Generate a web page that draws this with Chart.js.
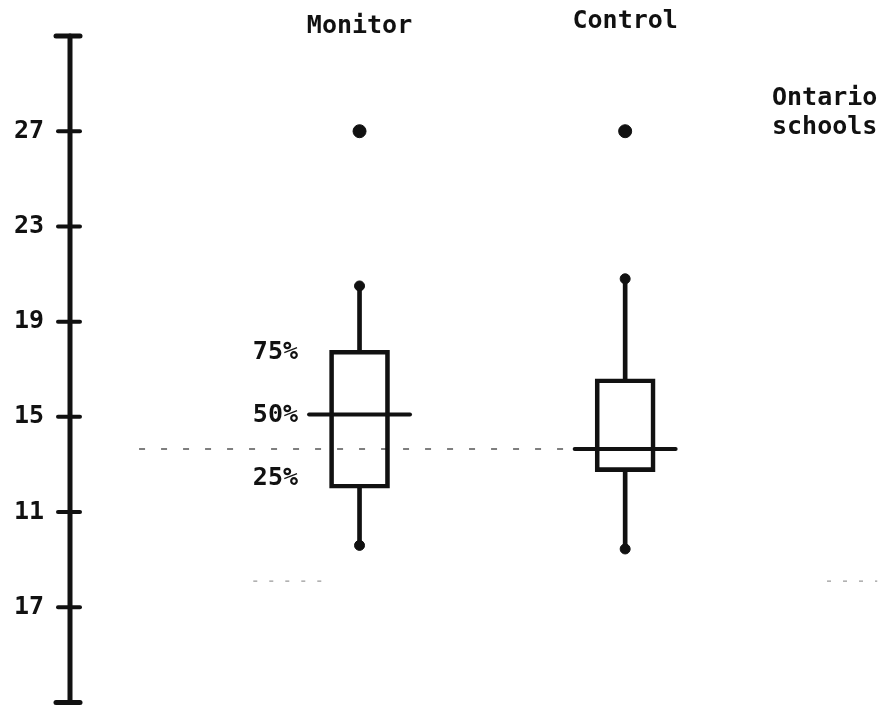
<!DOCTYPE html>
<html>
<head>
<meta charset="utf-8">
<script src="https://cdn.jsdelivr.net/npm/chart.js@4.4.1/dist/chart.umd.min.js"></script>
<style>
  html, body { margin: 0; padding: 0; background: #ffffff; }
  #wrap { width: 885px; height: 710px; }
</style>
</head>
<body>
<div id="wrap"><canvas id="c" width="885" height="710"></canvas></div>
<script>
// ---- data ----
const categories   = ["Monitor", "Control"];
const whiskerLow   = [9.6, 9.45];
const quartile1    = [12.0, 12.7];
const medians      = [15.1, 13.65];
const quartile3    = [17.8, 16.6];
const whiskerHigh  = [20.5, 20.8];
const outliers     = [27, 27];
const ontarioLine  = 13.65;
const lowerDashes  = 8.1;
const tickValues   = [3, 7, 11, 15, 19, 23, 27, 31];
const tickLabels   = ["", "17", "11", "15", "19", "23", "27", ""];
const percentLabels = ["75%", "50%", "25%"];
const sideLabel    = ["Ontario", "schools"];

// ---- styling / layout constants ----
const FAMILY = '"DejaVu Sans Mono", "Liberation Mono", monospace';
const FONT = 'bold 25px ' + FAMILY;
const INK = '#111111';
const medianHalf = 0.19;

const positions = categories.map((c, i) => i + 1);

const boxData = positions.map((x, i) => ({ x: x, y: [quartile1[i], quartile3[i]] }));
const whiskerData = [];
positions.forEach((x, i) => {
  whiskerData.push({ x: x, y: [quartile3[i], whiskerHigh[i]] });
  whiskerData.push({ x: x, y: [whiskerLow[i], quartile1[i]] });
});
const endDots = [];
positions.forEach((x, i) => {
  endDots.push({ x: x, y: whiskerHigh[i] });
  endDots.push({ x: x, y: whiskerLow[i] });
});
const outlierData = positions.map((x, i) => ({ x: x, y: outliers[i] }));
const medianSets = positions.map((x, i) => ({
  type: 'line',
  data: [{ x: x - medianHalf, y: medians[i] }, { x: x + medianHalf, y: medians[i] }],
  borderColor: INK, borderWidth: 4, pointRadius: 0, borderCapStyle: 'round', order: 0
}));

function dashSet(x0, x1, v, color, width, dash) {
  return {
    type: 'line', data: [{ x: x0, y: v }, { x: x1, y: v }],
    borderColor: color, borderWidth: width, borderDash: dash, pointRadius: 0, order: 3
  };
}

const axisPlugin = {
  id: 'axisPlugin',
  afterDraw(chart) {
    const ctx = chart.ctx;
    const ys = chart.scales.y;
    const xs = chart.scales.x;
    const ax = chart.chartArea.left;
    ctx.save();
    ctx.strokeStyle = INK;
    ctx.lineCap = 'round';
    ctx.lineWidth = 5;
    ctx.beginPath();
    ctx.moveTo(ax, ys.getPixelForValue(tickValues[tickValues.length - 1]));
    ctx.lineTo(ax, ys.getPixelForValue(tickValues[0]));
    ctx.stroke();
    tickValues.forEach((v, i) => {
      const py = ys.getPixelForValue(v);
      const end = (i === 0 || i === tickValues.length - 1);
      ctx.lineWidth = end ? 5 : 4;
      ctx.beginPath();
      ctx.moveTo(ax - (end ? 14 : 12), py);
      ctx.lineTo(ax + 10, py);
      ctx.stroke();
    });
    ctx.fillStyle = INK;
    ctx.font = FONT;
    ctx.textBaseline = 'middle';
    ctx.textAlign = 'center';
    ctx.fillText(categories[0], xs.getPixelForValue(positions[0]), 26);
    ctx.fillText(categories[1], xs.getPixelForValue(positions[1]), 21);
    ctx.textAlign = 'left';
    ctx.fillText(sideLabel[0], 772, 98);
    ctx.fillText(sideLabel[1], 772, 127);
    ctx.textAlign = 'right';
    const px = 298;
    ctx.fillText(percentLabels[0], px, ys.getPixelForValue(quartile3[0]) + 2);
    ctx.fillText(percentLabels[1], px, ys.getPixelForValue(medians[0]) + 1);
    ctx.fillText(percentLabels[2], px, ys.getPixelForValue(quartile1[0]) - 10);
    ctx.restore();
  }
};

new Chart(document.getElementById('c'), {
  type: 'bar',
  data: {
    datasets: [
      ...medianSets,
      {
        type: 'bar', data: boxData, barThickness: 60, grouped: false,
        backgroundColor: 'rgba(0,0,0,0)', borderColor: INK, borderWidth: 4,
        borderSkipped: false, order: 1
      },
      {
        type: 'bar', data: whiskerData, barThickness: 4, grouped: false,
        backgroundColor: INK, borderWidth: 0, order: 2
      },
      {
        type: 'scatter', data: endDots, pointRadius: 5,
        backgroundColor: INK, borderColor: INK, borderWidth: 1, order: 0
      },
      {
        type: 'scatter', data: outlierData, pointRadius: 6.5,
        backgroundColor: INK, borderColor: INK, borderWidth: 1, order: 0
      },
      dashSet(0.17, 1.81, ontarioLine, '#555555', 1.5, [6, 16]),
      dashSet(0.60, 0.86, lowerDashes, '#999999', 1.2, [4, 12]),
      dashSet(2.76, 2.95, lowerDashes, '#999999', 1.2, [4, 12])
    ]
  },
  options: {
    responsive: false,
    animation: false,
    layout: { padding: { top: 36, bottom: 4, left: 0, right: 0 } },
    plugins: { legend: { display: false }, tooltip: { enabled: false }, title: { display: false } },
    scales: {
      x: {
        type: 'linear', min: -0.09, max: 2.95, display: false, offset: false,
        grid: { display: false }
      },
      y: {
        type: 'linear', min: 3, max: 31, beginAtZero: false,
        afterBuildTicks: (s) => { s.ticks = tickValues.map(v => ({ value: v })); },
        afterFit: (s) => { s.width = 70; s.paddingTop = 0; s.paddingBottom = 0; },
        grid: { display: false, drawTicks: false },
        border: { display: false },
        ticks: {
          autoSkip: false, padding: 26, color: INK,
          font: { family: FAMILY, size: 25, weight: 'bold' },
          callback: (v) => tickLabels[tickValues.indexOf(v)]
        }
      }
    }
  },
  plugins: [axisPlugin]
});
</script>
</body>
</html>
